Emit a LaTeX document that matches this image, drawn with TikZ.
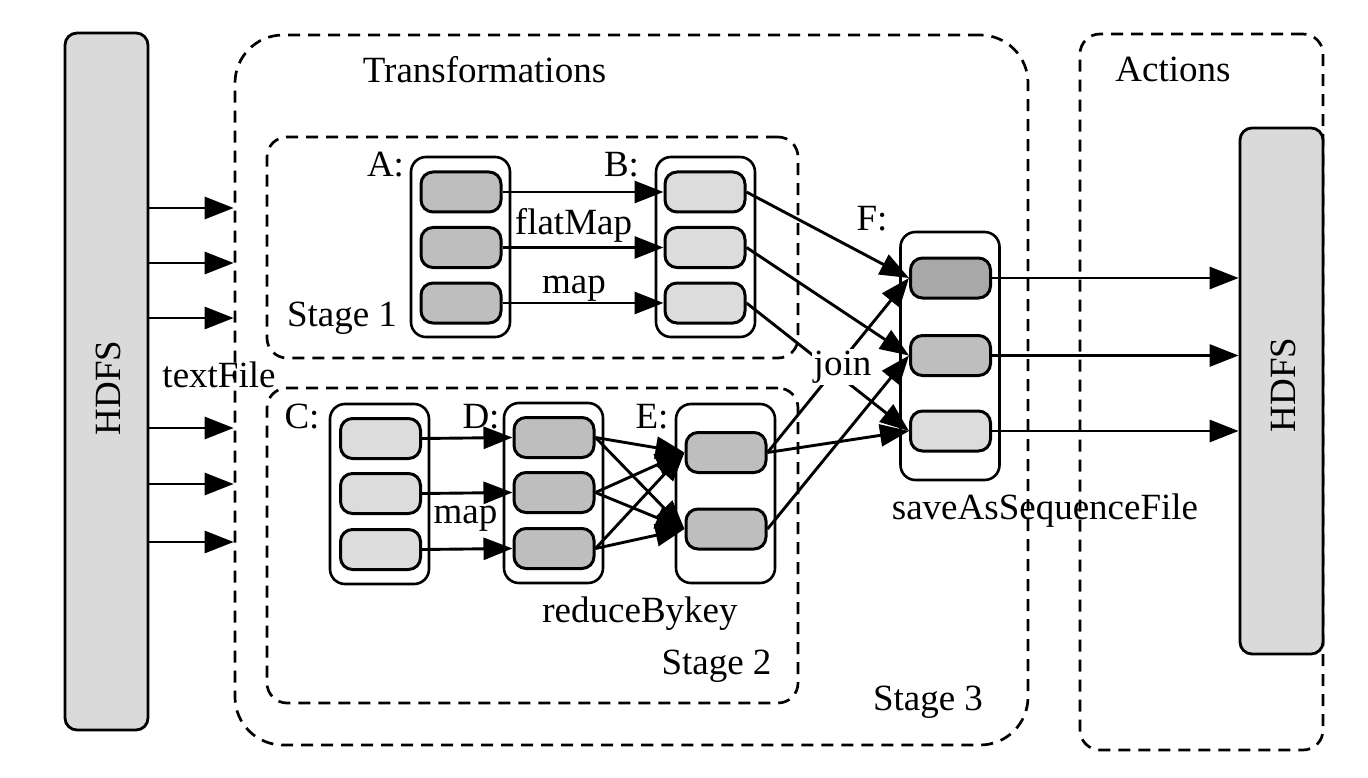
\documentclass[tikz,border=0pt]{standalone}
\usepackage{fontspec}
\setmainfont{Liberation Serif}
\usetikzlibrary{arrows.meta}
\definecolor{cellL}{HTML}{DCDCDC}
\definecolor{cellM}{HTML}{BEBEBE}
\definecolor{cellD}{HTML}{A8A8A8}
\definecolor{hdfsfill}{HTML}{DADADA}
\begin{document}
\begin{tikzpicture}[x=1pt,y=-1pt,
  font=\fontsize{37}{41}\selectfont,
  stagebox/.style={draw, line width=2.7pt, dash pattern=on 12pt off 8pt, rounded corners=20pt, inner sep=0pt},
  hdfsbox/.style={draw, line width=2.8pt, fill=hdfsfill, rounded corners=12pt, minimum width=83pt, inner sep=0pt},
  container/.style={draw, line width=2.6pt, rounded corners=15pt, minimum width=99pt, inner sep=0pt},
  cell/.style={draw, line width=3pt, rounded corners=12pt, minimum width=80pt, minimum height=40pt, inner sep=0pt},
  lbl/.style={anchor=base, inner sep=0pt},
  arr/.style={line width=2.9pt, -{Triangle[length=29pt,width=22pt]}},
]
\useasboundingbox (0,0) rectangle (1368,778);

% dashed regions
\node[stagebox, rounded corners=48pt, minimum width=793pt, minimum height=710pt] (stage3) at (631.5,390) {};
\node[stagebox, minimum width=531pt, minimum height=221pt] (stage1) at (532.5,247.5) {};
\node[stagebox, minimum width=531pt, minimum height=315pt] (stage2) at (532.5,545.5) {};
\node[stagebox, minimum width=243pt, minimum height=716pt] (actions) at (1201.5,392) {};

% HDFS boxes
\node[hdfsbox, minimum height=697pt] (hdfsL) at (106.5,381.5) {};
\node[hdfsbox, minimum height=526pt] (hdfsR) at (1281.5,391) {};
\node[rotate=90, inner sep=0pt] (hdfsLtxt) at (108,388) {HDFS};
\node[rotate=90, inner sep=0pt] (hdfsRtxt) at (1283,385) {HDFS};

% containers
\node[container, minimum height=180pt] (A) at (460.5,247) {};
\node[container, minimum height=180pt] (B) at (705.5,247) {};
\node[container, minimum height=180pt] (C) at (379.5,494) {};
\node[container, minimum height=180pt] (D) at (553.5,493) {};
\node[container, minimum height=179pt] (E) at (725.5,493.5) {};
\node[container, minimum height=248pt] (F) at (950,356) {};

% cells
\node[cell, fill=cellM] (a1) at (461,192) {};
\node[cell, fill=cellM] (a2) at (461,247.5) {};
\node[cell, fill=cellM] (a3) at (461,303) {};
\node[cell, fill=cellL] (b1) at (705,192) {};
\node[cell, fill=cellL] (b2) at (705,247.5) {};
\node[cell, fill=cellL] (b3) at (705,303) {};
\node[cell, fill=cellL] (c1) at (380.5,438.5) {};
\node[cell, fill=cellL] (c2) at (380.5,493.5) {};
\node[cell, fill=cellL] (c3) at (380.5,549.5) {};
\node[cell, fill=cellM] (d1) at (554,437.5) {};
\node[cell, fill=cellM] (d2) at (554,492.5) {};
\node[cell, fill=cellM] (d3) at (554,548.5) {};
\node[cell, fill=cellM] (e1) at (726,452.5) {};
\node[cell, fill=cellM] (e2) at (726,529) {};
\node[cell, fill=cellD] (f1) at (950.5,278) {};
\node[cell, fill=cellM] (f2) at (950.5,355.5) {};
\node[cell, fill=cellL] (f3) at (950.5,431) {};

% textFile arrows
\foreach \y [count=\i] in {208,263,318,428,484,542} {
  \coordinate (t\i) at (0,\y);
  \draw[arr] (hdfsL.east |- t\i) -- (stage3.west |- t\i);
}

% A -> B
\draw[arr] (a1.east) -- (b1.west);
\draw[arr] (a2.east) -- (b2.west);
\draw[arr] (a3.east) -- (b3.west);
% C -> D
\draw[arr] (c1.east) -- (d1.west);
\draw[arr] (c2.east) -- (d2.west);
\draw[arr] (c3.east) -- (d3.west);
% D -> E
\foreach \s in {d1,d2,d3} {
  \draw[arr] (\s.east) -- (e1.west);
  \draw[arr] (\s.east) -- (e2.west);
}
% into F
\draw[arr] (b1.east) -- (f1.west);
\draw[arr] (b2.east) -- (f2.west);
\draw[arr] (b3.east) -- (f3.west);
\draw[arr] (e1.east) -- (f1.west);
\draw[arr] (e1.east) -- (f3.west);
\draw[arr] (e2.east) -- (f2.west);
% F -> HDFS
\draw[arr] (f1.east) -- (hdfsR.west |- f1);
\draw[arr] (f2.east) -- (hdfsR.west |- f2);
\draw[arr] (f3.east) -- (hdfsR.west |- f3);

% labels
\node[lbl] (ltrans) at (484.5,83) {Transformations};
\node[lbl] (lact) at (1173,82) {Actions};
\node[lbl] (lA) at (385.5,177) {A:};
\node[lbl] (lB) at (621.5,177) {B:};
\node[lbl] (lC) at (302,428) {C:};
\node[lbl] (lD) at (481,428) {D:};
\node[lbl] (lE) at (652,428) {E:};
\node[lbl] (lF) at (872,231) {F:};
\node[lbl] (lflat) at (573.5,235) {flatMap};
\node[lbl] (lmap1) at (574,293) {map};
\node[lbl] (lmap2) at (465.5,523) {map};
\node[lbl] (lreduce) at (640,622) {reduceBykey};
\node[lbl] (ls1) at (342,326) {Stage 1};
\node[lbl] (ls2) at (716.5,674) {Stage 2};
\node[lbl] (ls3) at (928,710) {Stage 3};
\node[lbl] (ltext) at (219,387) {textFile};
\node[lbl] (lsave) at (1045,519) {saveAsSequenceFile};
\node[anchor=base, fill=white, inner sep=2pt] (ljoin) at (842.5,375) {join};
\end{tikzpicture}
\end{document}
